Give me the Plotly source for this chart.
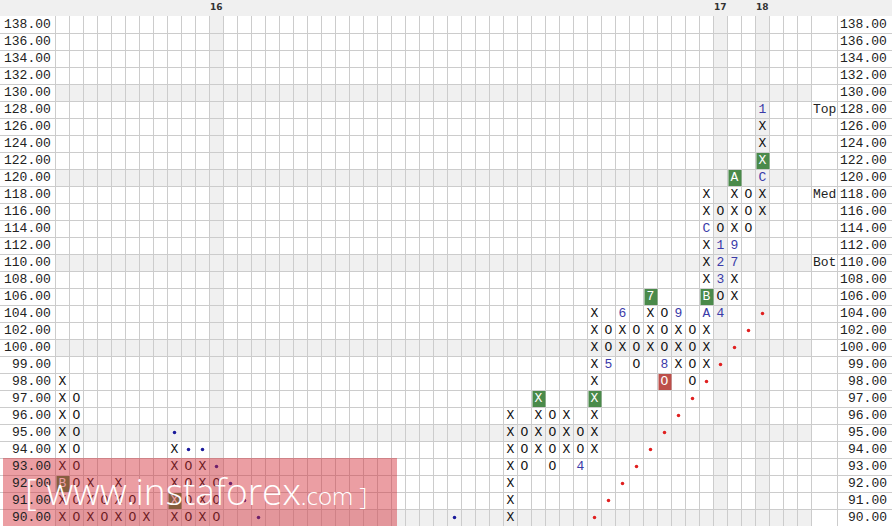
import plotly.graph_objects as go

# ---------------- data ----------------
price_levels = [138, 136, 134, 132, 130, 128, 126, 124, 122, 120, 118, 116, 114, 112, 110,
                108, 106, 104, 102, 100, 99, 98, 97, 96, 95, 94, 93, 92, 91, 90]
shaded_prices = [130, 120, 110, 100, 95, 90]
shaded_columns = [11, 47, 50]
header_columns = [11, 47, 50]
header_labels = ["16", "17", "18"]

column_index = [0, 1, 2, 3, 4, 5, 6, 8, 9, 10, 11, 32, 33, 34, 35, 36, 37, 38, 39, 40,
                41, 42, 43, 44, 45, 46, 47, 48, 49, 50]
column_kind = ["X", "O", "X", "O", "X", "O", "X", "X", "O", "X", "O", "X", "O", "X", "O",
               "X", "O", "X", "O", "X", "O", "X", "O", "X", "O", "X", "O", "X", "O", "X"]
column_low = [90, 90, 90, 90, 90, 90, 90, 90, 90, 90, 90, 90, 93, 94, 93, 94, 93, 94, 99, 100,
              99, 100, 98, 99, 98, 99, 104, 106, 114, 116]
column_high = [98, 97, 92, 91, 92, 91, 90, 94, 93, 93, 92, 96, 95, 97, 96, 96, 95, 104, 102, 104,
               102, 106, 104, 104, 102, 118, 116, 120, 118, 128]

special_col = [0, 8, 34, 37, 38, 39, 40, 42, 43, 43, 44, 46, 46, 46, 47, 47, 47, 47, 48, 48, 48, 50, 50, 50]
special_price = [92, 91, 97, 93, 97, 99, 104, 106, 99, 98, 104, 104, 106, 114, 112, 110, 108, 104,
                 110, 112, 120, 120, 122, 128]
special_text = ["B", "X", "X", "4", "X", "5", "6", "7", "8", "O", "9", "A", "B", "C", "1", "2", "3", "4",
                "7", "9", "A", "C", "X", "1"]
special_style = ["buy", "buy", "buy", "month", "buy", "month", "month", "buy", "month", "sell", "month",
                 "month", "buy", "month", "month", "month", "month", "month", "month", "month", "buy",
                 "month", "buy", "month"]

bear_line_col = [8, 9, 10, 11, 12, 13, 14, 28]
bear_line_price = [95, 94, 94, 93, 92, 91, 90, 90]
bull_line_col = [38, 39, 40, 41, 42, 43, 44, 45, 46, 47, 48, 49, 50]
bull_line_price = [90, 91, 92, 93, 94, 95, 96, 97, 98, 99, 100, 102, 104]

level_text = ["Top", "Med", "Bot"]
level_price = [128, 118, 110]

# ---------------- geometry / style ----------------
W, H = 892, 526
COLW, ROWH = 14, 17
LEFT = 55.5          # pixel of left edge of column 0
TOP = 16             # pixel of top of first row
N_COLS = 54
MONO = "Liberation Mono, Courier New, monospace"
GRID = "#cccccc"
SHADE = "#f0f0f0"
GREEN = "#4a8a4a"
RED = "#bd4f4a"
BLUE_TXT = "#3a3aa8"

def px_to_x(p):
    return (p - (LEFT + COLW / 2)) / COLW

row_of = {p: i for i, p in enumerate(price_levels)}
special_keys = set(zip(special_col, special_price))

# X / O cells
xs, ys, ts = [], [], []
for c, k, lo, hi in zip(column_index, column_kind, column_low, column_high):
    for p in price_levels:
        if lo <= p <= hi and (c, p) not in special_keys:
            xs.append(c)
            ys.append(row_of[p])
            ts.append(k)

fig = go.Figure()

shapes = []
# header band
shapes.append(dict(type="rect", xref="paper", yref="paper", x0=0, x1=1, y0=(H - TOP) / H, y1=1,
                   fillcolor=SHADE, line=dict(width=0), layer="below"))
# shaded rows / columns
for p in shaded_prices:
    r = row_of[p]
    shapes.append(dict(type="rect", xref="x", yref="y", x0=-0.5, x1=N_COLS - 0.5, y0=r - 0.5, y1=r + 0.5,
                       fillcolor=SHADE, line=dict(width=0), layer="below"))
for c in shaded_columns:
    shapes.append(dict(type="rect", xref="x", yref="y", x0=c - 0.5, x1=c + 0.5, y0=-0.5,
                       y1=len(price_levels) - 0.5, fillcolor=SHADE, line=dict(width=0), layer="below"))
# signal boxes
for c, p, s in zip(special_col, special_price, special_style):
    if s in ("buy", "sell"):
        r = row_of[p]
        shapes.append(dict(type="rect", xref="x", yref="y", x0=c - 0.5 + 0.07, x1=c + 0.5,
                           y0=r - 0.5 + 0.06, y1=r + 0.5, fillcolor=GREEN if s == "buy" else RED,
                           line=dict(width=0), layer="between"))

fig.add_trace(go.Scatter(x=xs, y=ys, text=ts, mode="text", textposition="middle center",
                         textfont=dict(family=MONO, size=13, color="#111111"), hoverinfo="skip"))

# month labels and box texts
mx, my, mt, mc = [], [], [], []
for c, p, t, s in zip(special_col, special_price, special_text, special_style):
    mx.append(c)
    my.append(row_of[p])
    mt.append(t)
    mc.append(BLUE_TXT if s == "month" else "#ffffff")
fig.add_trace(go.Scatter(x=mx, y=my, text=mt, mode="text", textposition="middle center",
                         textfont=dict(family=MONO, size=13, color=mc), hoverinfo="skip"))

# trend lines
fig.add_trace(go.Scatter(x=bear_line_col, y=[row_of[p] for p in bear_line_price], mode="markers",
                         marker=dict(size=3.5, color="#1a1a9a"), hoverinfo="skip"))
fig.add_trace(go.Scatter(x=bull_line_col, y=[row_of[p] for p in bull_line_price], mode="markers",
                         marker=dict(size=3.5, color="#e02020"), hoverinfo="skip"))

annotations = []
for p in price_levels:
    lab = f"{p:.2f}"
    annotations.append(dict(x=px_to_x(53), y=row_of[p], xref="x", yref="y", text=lab, showarrow=False,
                            xanchor="right", yanchor="middle", font=dict(family=MONO, size=13, color="#222222")))
    annotations.append(dict(x=px_to_x(889), y=row_of[p], xref="x", yref="y", text=lab, showarrow=False,
                            xanchor="right", yanchor="middle", font=dict(family=MONO, size=13, color="#222222")))
for t, p in zip(level_text, level_price):
    annotations.append(dict(x=px_to_x(824.5), y=row_of[p], xref="x", yref="y", text=t, showarrow=False,
                            xanchor="center", yanchor="middle", font=dict(family=MONO, size=13, color="#222222")))
for c, t in zip(header_columns, header_labels):
    annotations.append(dict(x=c, y=(H - 7) / H, xref="x", yref="paper", text=t, showarrow=False,
                            xanchor="center", yanchor="middle",
                            font=dict(family="DejaVu Sans", size=9, color="#333333", weight="bold")))

# watermark
shapes.append(dict(type="rect", xref="paper", yref="paper", x0=3 / W, x1=397 / W, y0=0, y1=(H - 458) / H,
                   fillcolor="rgba(210,40,50,0.45)", line=dict(width=0), layer="above"))
annotations.append(dict(x=23 / W, y=(H - 490) / H, xref="paper", yref="paper", showarrow=False,
                        xanchor="left", yanchor="middle",
                        text="[ www.instaforex<span style='font-size:24px'>.com ]</span>",
                        font=dict(family="Open Sans, Noto Sans, sans-serif", size=37, color="#ffffff",
                                  weight=300)))

grid_x = [px_to_x(0.5)] + [i - 0.5 for i in range(N_COLS + 1)] + [px_to_x(837.5), px_to_x(891.5)]
grid_y = [r - 0.5 for r in range(len(price_levels) + 1)]

fig.update_layout(
    width=W, height=H, margin=dict(l=0, r=0, t=0, b=0),
    paper_bgcolor="#ffffff", plot_bgcolor="#ffffff", showlegend=False,
    shapes=shapes, annotations=annotations,
    xaxis=dict(range=[px_to_x(0), px_to_x(W)], domain=[0, 1], tickmode="array", tickvals=grid_x,
               showticklabels=False, ticks="", showgrid=True, gridcolor=GRID, gridwidth=1,
               zeroline=False, showline=False, fixedrange=True),
    yaxis=dict(range=[(H - TOP) / ROWH - 0.5, -0.5], domain=[0, (H - TOP) / H], tickmode="array",
               tickvals=grid_y, showticklabels=False, ticks="", showgrid=True, gridcolor=GRID,
               gridwidth=1, zeroline=False, showline=False, fixedrange=True),
)

fig.write_html("out.html", config={"displayModeBar": False},
               post_script="document.body.style.margin='0';document.body.style.overflow='hidden';")
